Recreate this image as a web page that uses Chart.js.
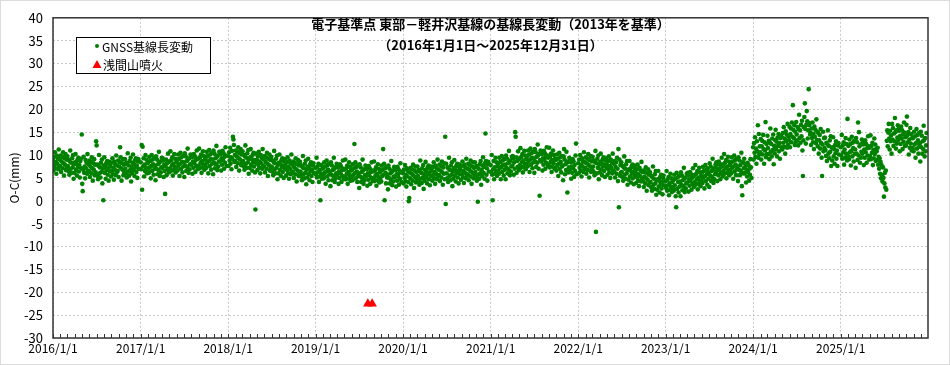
<!DOCTYPE html>
<html>
<head>
<meta charset="utf-8">
<script src="https://cdn.jsdelivr.net/npm/chart.js@4.4.1/dist/chart.umd.min.js"></script>
<style>
  html, body { margin: 0; padding: 0; background: #fff; }
  #chart { display: block; }
</style>
</head>
<body>
<canvas id="chart" width="950" height="365"></canvas>
<script>
// 基線長 O-C (mm)、2日おきの値(年ごと、1行=1か月)
const years = [2016, 2017, 2018, 2019, 2020, 2021, 2022, 2023, 2024, 2025];

const gnss2016 = [
  8.8,6.6,9.6,7.8,10.6,7.1,8.5,5.9,9.9,8.1,9.3,6.9,11.2,7.5,9.0,
  7.6,9.9,6.3,8.6,9.6,7.1,10.6,8.2,5.5,9.3,7.9,10.2,6.7,9.0,7.3,
  9.7,7.6,6.5,8.9,5.7,8.6,11.0,7.0,8.3,6.1,9.3,7.3,10.0,4.8,8.0,
  6.1,8.4,10.2,6.8,8.1,5.5,8.9,7.4,9.4,6.4,7.8,5.1,8.7,9.2,7.1,
  14.5,3.7,2.1,6.8,9.6,6.1,7.5,4.9,8.9,7.1,8.3,5.9,10.2,6.5,8.0,
  6.5,8.8,5.2,7.5,8.5,6.0,9.5,7.1,4.4,8.2,6.8,9.1,5.6,7.9,6.2,
  13.0,12.1,5.5,7.9,4.7,7.6,10.0,6.0,7.3,5.1,8.3,6.3,9.0,3.8,7.0,
  0.1,7.7,9.5,6.1,7.4,4.8,8.2,6.7,8.7,5.7,7.1,4.4,8.0,8.5,6.4,
  7.5,5.3,8.3,6.5,9.3,5.8,7.2,4.6,8.6,6.8,8.0,5.6,9.9,6.2,7.7,
  6.5,8.8,5.2,7.5,8.5,11.7,9.5,7.1,4.4,8.2,6.8,9.1,5.6,7.9,6.2,
  9.1,7.0,5.9,8.3,5.1,8.0,10.4,6.4,7.7,5.5,8.7,6.7,9.4,4.2,7.4,
  6.0,8.3,10.1,6.7,8.0,5.4,8.8,7.3,9.3,6.3,7.7,5.0,8.6,9.1,7.0
];
const gnss2017 = [
  8.4,6.9,12.2,2.4,11.8,7.5,9.3,5.3,7.9,6.5,10.0,7.2,9.0,6.0,8.2,
  6.7,8.4,6.1,9.6,7.3,8.7,4.9,7.6,10.0,6.5,9.0,8.0,5.7,9.3,7.0,
  7.7,4.5,9.7,7.0,9.0,5.8,8.0,6.7,10.7,8.3,5.4,8.6,6.2,7.3,9.4,
  7.2,9.3,8.8,5.2,7.9,6.5,1.5,7.5,9.0,5.6,8.2,6.9,10.3,8.5,6.2,
  8.6,7.1,10.8,6.5,8.9,7.7,9.5,5.5,8.1,6.7,10.2,7.4,9.2,6.2,8.4,
  7.2,8.9,6.6,10.1,7.8,9.2,5.4,8.1,10.5,7.0,9.5,8.5,6.2,9.8,7.5,
  8.4,5.2,10.4,7.7,9.7,6.5,8.7,7.4,11.4,9.0,6.1,9.3,6.9,8.0,10.1,
  7.9,10.0,9.5,5.9,8.6,7.2,10.2,8.2,9.7,6.3,8.9,7.6,11.0,9.2,6.9,
  9.2,7.7,11.4,7.1,9.5,8.3,10.1,6.1,8.7,7.3,10.8,8.0,9.8,6.8,9.0,
  7.8,9.5,7.2,10.7,8.4,9.8,6.0,8.7,11.1,7.6,10.1,9.1,6.8,10.4,8.1,
  9.0,5.8,11.0,8.3,10.3,7.1,9.3,8.0,12.0,9.6,6.7,9.9,7.5,8.6,10.7,
  8.6,10.7,10.2,6.6,9.3,7.9,10.9,8.9,10.4,7.0,9.6,8.3,11.7,9.9,7.6
];
const gnss2018 = [
  9.8,7.6,10.6,8.8,11.6,8.1,9.5,6.9,10.9,9.1,14.0,13.4,12.2,8.5,10.0,
  8.7,11.0,7.4,9.7,10.7,8.2,11.7,9.3,6.6,10.4,9.0,11.3,7.8,10.1,8.4,
  10.8,8.7,7.6,10.0,6.8,9.7,12.1,8.1,9.4,7.2,10.4,8.4,11.1,5.9,9.1,
  7.2,9.5,11.3,7.9,9.2,6.6,10.0,8.5,10.5,7.5,8.9,6.2,-1.9,10.3,8.2,
  8.9,6.7,9.7,7.9,10.7,7.2,8.6,6.0,10.0,8.2,9.4,7.0,11.3,7.6,9.1,
  7.5,9.8,6.2,8.5,9.5,7.0,10.5,8.1,5.4,9.2,7.8,10.1,6.6,8.9,7.2,
  9.6,7.5,6.4,8.8,5.6,8.5,10.9,6.9,8.2,6.0,9.2,7.2,9.9,4.7,7.9,
  6.0,8.3,10.1,6.7,8.0,5.4,8.8,7.3,9.3,6.3,7.7,5.0,8.6,9.1,7.0,
  7.7,5.5,8.5,6.7,9.5,6.0,7.4,4.8,8.8,7.0,8.2,5.8,10.1,6.4,7.9,
  6.3,8.6,5.0,7.3,8.3,5.8,9.3,6.9,4.2,8.0,6.6,8.9,5.4,7.7,6.0,
  8.5,6.4,5.3,7.7,4.5,7.4,9.8,5.8,7.1,4.9,8.1,6.1,8.8,3.6,6.8,
  5.1,7.4,9.2,5.8,7.1,4.5,7.9,6.4,8.4,5.4,6.8,4.1,7.7,8.2,6.1
];
const gnss2019 = [
  7.2,5.7,9.4,5.1,7.5,6.3,8.1,4.1,6.7,5.3,0.1,6.0,7.8,4.8,7.0,
  5.5,7.2,4.9,8.4,6.1,7.5,3.7,6.4,8.8,5.3,7.8,6.8,4.5,8.1,5.8,
  6.4,3.2,8.4,5.7,7.7,4.5,6.7,5.4,9.4,7.0,4.1,7.3,4.9,6.0,8.1,
  5.7,7.8,7.3,3.7,6.4,5.0,8.0,6.0,7.5,4.1,6.7,5.4,8.8,7.0,4.7,
  6.8,5.3,9.0,4.7,7.1,5.9,7.7,3.7,6.3,4.9,8.4,5.6,7.4,4.4,6.6,
  5.1,6.8,4.5,8.0,5.7,7.1,12.4,6.0,8.4,4.9,7.4,6.4,4.1,7.7,5.4,
  6.0,2.8,8.0,5.3,7.3,4.1,6.3,5.0,9.0,6.6,3.7,6.9,4.5,5.6,7.7,
  5.3,7.4,6.9,3.3,6.0,4.6,7.6,5.6,7.1,3.7,6.3,5.0,8.4,6.6,4.3,
  6.4,4.9,8.6,4.3,6.7,5.5,7.3,3.3,5.9,4.5,8.0,5.2,7.0,4.0,6.2,
  4.8,6.5,4.2,7.7,5.4,6.8,11.3,5.7,8.1,0.1,7.1,6.1,3.8,7.4,5.1,
  5.7,2.5,7.7,5.0,7.0,3.8,6.0,4.7,8.7,6.3,3.4,6.6,4.2,5.3,7.4,
  5.1,7.2,6.7,3.1,5.8,4.4,7.4,5.4,6.9,3.5,6.1,4.8,8.2,6.4,4.1
];
const gnss2020 = [
  6.0,3.8,6.8,5.0,7.8,4.3,5.7,3.1,7.1,5.3,6.5,4.1,-0.1,0.6,6.2,
  4.9,7.2,3.6,5.9,6.9,4.4,7.9,5.5,2.8,6.6,5.2,7.5,4.0,6.3,4.6,
  7.5,5.4,4.3,6.7,3.5,6.4,8.8,4.8,6.1,3.9,7.1,5.1,7.8,2.6,5.8,
  4.4,6.7,8.5,5.1,6.4,3.8,7.2,5.7,7.7,4.7,6.1,3.4,7.0,7.5,5.4,
  6.6,4.4,7.4,5.6,8.4,4.9,6.3,3.7,7.7,5.9,7.1,4.7,9.0,5.3,6.8,
  5.6,7.9,4.3,6.6,7.6,5.1,8.6,6.2,3.5,7.3,5.9,8.2,4.7,14.0,-0.7,
  8.1,6.0,4.9,7.3,4.1,7.0,9.4,5.4,6.7,4.5,7.7,5.7,8.4,3.2,6.4,
  4.8,7.1,8.9,5.5,6.8,4.2,7.6,6.1,8.1,5.1,6.5,3.8,7.4,7.9,5.8,
  6.8,4.6,7.6,5.8,8.6,5.1,6.5,3.9,7.9,6.1,7.3,4.9,9.2,5.5,7.0,
  5.8,8.1,4.5,6.8,7.8,5.3,8.8,6.4,3.7,7.5,6.1,8.4,4.9,7.2,5.5,
  8.4,6.3,5.2,7.6,4.4,7.3,-0.2,5.7,7.0,4.8,8.0,6.0,8.7,3.5,6.7,
  5.4,7.7,9.5,6.1,7.4,4.8,8.2,14.7,8.7,5.7,7.1,4.4,8.0,8.5,6.4
];
const gnss2021 = [
  7.8,6.3,10.0,5.7,0.1,6.9,8.7,4.7,7.3,5.9,9.4,6.6,8.4,5.4,7.6,
  6.5,8.2,5.9,9.4,7.1,8.5,4.7,7.4,9.8,6.3,8.8,7.8,5.5,9.1,6.8,
  7.9,4.7,9.9,7.2,9.2,6.0,8.2,6.9,10.9,8.5,5.6,8.8,6.4,7.5,9.6,
  7.7,9.8,9.3,5.7,8.4,7.0,15.0,14.0,9.5,6.1,8.7,7.4,10.8,9.0,6.7,
  9.3,7.8,11.5,7.2,9.6,8.4,10.2,6.2,8.8,7.4,10.9,8.1,9.9,6.9,9.1,
  8.1,9.8,7.5,11.0,8.7,10.1,6.3,9.0,11.4,7.9,10.4,9.4,7.1,10.7,8.4,
  9.3,6.1,11.3,8.6,10.6,7.4,9.6,8.3,12.3,9.9,7.0,10.2,1.1,8.9,11.0,
  8.6,10.7,10.2,6.6,9.3,7.9,10.9,8.9,10.4,7.0,9.6,8.3,11.7,9.9,7.6,
  9.4,7.9,11.6,7.3,9.7,8.5,10.3,6.3,8.9,7.5,11.0,8.2,10.0,7.0,9.2,
  7.2,8.9,6.6,10.1,7.8,9.2,5.4,8.1,10.5,7.0,9.5,8.5,6.2,9.8,7.5,
  7.7,4.5,9.7,11.3,9.0,5.8,8.0,6.7,10.7,8.3,1.8,8.6,6.2,7.3,9.4,
  6.8,8.9,8.4,4.8,7.5,6.1,9.1,7.1,8.6,5.2,7.8,6.5,9.9,12.5,5.8
];
const gnss2022 = [
  8.2,6.0,9.0,7.2,10.0,6.5,7.9,5.3,9.3,7.5,8.7,6.3,10.6,6.9,8.4,
  7.2,9.5,5.9,8.2,9.2,6.7,10.2,7.8,5.1,8.9,7.5,9.8,6.3,8.6,6.9,
  9.6,7.5,6.4,8.8,5.6,8.5,10.9,-6.8,8.2,6.0,9.2,7.2,9.9,4.7,7.9,
  6.2,8.5,10.3,6.9,8.2,5.6,9.0,7.5,9.5,6.5,7.9,5.2,8.8,9.3,7.2,
  7.9,5.7,8.7,6.9,9.7,6.2,7.6,5.0,9.0,7.2,8.4,6.0,10.3,6.6,8.1,
  6.4,8.7,5.1,7.4,8.4,5.9,9.4,7.0,4.3,11.3,-1.4,9.0,5.5,7.8,6.1,
  8.4,6.3,5.2,7.6,4.4,7.3,9.7,5.7,7.0,4.8,8.0,6.0,8.7,3.5,6.7,
  4.6,6.9,8.7,5.3,6.6,4.0,7.4,5.9,7.9,4.9,6.3,3.6,7.2,7.7,5.6,
  6.1,3.9,6.9,5.1,7.9,4.4,5.8,3.2,7.2,5.4,6.6,4.2,8.5,4.8,6.3,
  4.3,6.6,3.0,5.3,6.3,3.8,7.3,4.9,2.2,6.0,4.6,6.9,3.4,5.7,4.0,
  6.2,4.1,3.0,5.4,2.2,5.1,7.5,3.5,4.8,2.6,5.8,3.8,6.5,1.3,4.5,
  2.4,4.7,6.5,3.1,4.4,1.8,5.2,3.7,5.7,2.7,4.1,1.4,5.0,5.5,3.4
];
const gnss2023 = [
  4.3,2.8,6.5,2.2,4.6,3.4,5.2,1.2,3.8,2.4,5.9,3.1,4.9,1.9,4.1,
  2.8,4.5,2.2,5.7,3.4,4.8,1.0,-1.4,6.1,2.6,5.1,4.1,1.8,5.4,3.1,
  4.2,1.0,6.2,3.5,5.5,2.3,4.5,3.2,7.2,4.8,1.9,5.1,2.7,3.8,5.9,
  4.0,6.1,5.6,2.0,4.7,3.3,6.3,4.3,5.8,2.4,5.0,3.7,7.1,5.3,3.0,
  5.6,4.1,7.8,3.5,5.9,4.7,6.5,2.5,5.1,3.7,7.2,4.4,6.2,3.2,5.4,
  4.5,6.2,3.9,7.4,5.1,6.5,2.7,5.4,7.8,4.3,6.8,5.8,3.5,7.1,4.8,
  6.2,3.0,8.2,5.5,7.5,4.3,6.5,5.2,9.2,6.8,3.9,7.1,4.7,5.8,7.9,
  6.3,8.4,7.9,4.3,7.0,5.6,8.6,6.6,8.1,4.7,7.3,6.0,9.4,7.6,5.3,
  8.0,6.5,10.2,5.9,8.3,7.1,8.9,4.9,7.5,6.1,9.6,6.8,8.6,5.6,7.8,
  6.6,8.3,6.0,9.5,7.2,8.6,4.8,7.5,9.9,6.4,8.9,7.9,5.6,9.2,6.9,
  7.5,4.3,9.5,6.8,8.8,5.6,7.8,6.5,10.5,3.2,1.2,8.4,6.0,7.1,9.2,
  6.0,8.1,7.6,4.0,6.7,5.3,8.3,6.3,7.8,4.4,7.0,5.7,9.1,7.3,5.0
];
const gnss2024 = [
  11.7,9.0,12.6,10.5,13.9,9.6,11.4,8.1,13.0,10.8,16.5,9.4,14.6,10.1,11.9,
  10.6,13.5,9.0,11.9,13.1,10.1,14.4,11.3,8.1,12.8,11.0,17.2,9.5,12.4,10.2,
  14.2,11.5,10.2,13.1,9.1,12.7,15.8,10.7,12.4,9.7,13.6,11.1,14.5,8.0,12.0,
  10.4,13.3,15.5,11.3,12.9,9.7,13.8,12.0,14.6,10.8,12.6,9.2,13.7,14.2,11.7,
  13.9,11.2,14.8,12.7,16.1,11.8,13.6,10.3,15.2,13.0,14.5,11.6,16.8,12.3,14.1,
  13.3,16.2,11.7,14.6,15.8,12.8,17.1,14.0,20.9,15.5,13.7,16.5,12.2,15.1,12.9,
  17.2,14.5,13.2,16.1,12.1,15.7,18.8,13.7,15.4,12.7,16.6,14.1,17.5,11.0,5.4,
  13.2,16.1,18.3,21.3,15.7,12.5,16.6,19.6,17.4,13.6,15.4,24.4,16.5,17.0,14.5,
  14.9,12.2,15.8,13.7,17.1,12.8,14.6,11.3,16.2,14.0,15.5,12.6,17.8,13.3,15.1,
  11.9,14.8,10.3,13.2,14.4,11.4,15.7,12.6,9.4,5.4,12.3,15.1,10.8,13.7,11.5,
  13.8,11.1,9.8,12.7,8.7,12.3,15.4,10.3,12.0,9.3,13.2,10.7,14.1,7.6,11.6,
  8.8,11.7,13.9,9.7,11.3,8.1,12.2,10.4,13.0,9.2,11.0,7.6,12.1,12.6,10.1
];
const gnss2025 = [
  11.7,9.9,14.4,9.2,12.1,10.6,12.8,7.9,11.2,9.4,13.7,10.3,12.4,8.8,17.9,
  9.8,12.0,9.1,13.4,10.6,12.4,7.7,10.9,14.0,9.7,12.7,11.5,8.6,13.1,10.2,
  11.2,7.2,13.7,10.3,12.8,8.9,17.1,9.9,15.0,11.9,8.3,12.3,9.4,10.7,13.4,
  10.3,12.8,12.3,7.8,11.2,9.4,13.2,10.6,12.4,8.3,11.5,9.9,14.1,11.9,9.0,
  11.6,9.8,14.3,9.1,12.0,10.5,12.7,7.8,11.1,9.3,13.6,10.2,12.3,8.7,11.4,
  10.8,8.9,11.6,7.9,9.6,7.0,9.3,5.9,8.5,4.9,7.8,5.6,4.2,7.3,5.0,
  0.9,3.8,6.1,2.9,6.6,2.4,13.1,15.4,11.9,14.9,16.8,13.6,11.2,15.3,13.0,
  14.3,10.3,16.8,13.4,15.9,12.0,14.7,13.0,18.1,15.0,11.4,15.4,12.5,13.8,16.5,
  13.3,15.8,15.3,10.8,14.2,12.4,16.2,13.6,15.4,11.3,14.5,12.9,17.1,14.9,12.0,
  13.9,12.1,16.6,18.4,14.3,12.8,15.0,10.1,13.4,11.6,15.9,12.5,14.6,11.0,13.7,
  11.5,13.7,10.8,15.1,12.3,14.1,9.4,12.6,15.7,11.4,14.4,13.2,10.3,14.8,11.9,
  12.6,8.6,15.1,11.7,14.2,10.3,13.0,11.3,16.4,13.3,9.7,13.7,10.8,12.1,14.8
];
const gnssByYear = [gnss2016, gnss2017, gnss2018, gnss2019, gnss2020,
                    gnss2021, gnss2022, gnss2023, gnss2024, gnss2025];
const stepDays = 2;

// 浅間山噴火
const eruptDates = ["2019/8/7", "2019/8/25"];
const eruptValues = [-22.5, -22.5];

// 目盛
const tickLabels = ["2016/1/1", "2017/1/1", "2018/1/1", "2019/1/1", "2020/1/1",
                    "2021/1/1", "2022/1/1", "2023/1/1", "2024/1/1", "2025/1/1"];
const yMin = -30, yMax = 40, yStep = 5;

const day0 = Date.UTC(2016, 0, 1);
function dayOf(y, m, d) {
  return (Date.UTC(y, m - 1, d) - day0) / 86400000;
}
function parseDay(s) {
  const p = s.split("/").map(Number);
  return dayOf(p[0], p[1], p[2]);
}
const tickDays = tickLabels.map(parseDay);
const xMax = dayOf(2025, 12, 31);

const gnssPoints = [];
gnssByYear.forEach((arr, k) => {
  const start = dayOf(years[k], 1, 1);
  arr.forEach((v, i) => gnssPoints.push({ x: start + i * stepDays, y: v }));
});
const eruptPoints = eruptDates.map((d, i) => ({ x: parseDay(d), y: eruptValues[i] }));

const FONT = "'Noto Sans CJK JP', 'Noto Sans', sans-serif";
Chart.defaults.font.family = FONT;
Chart.defaults.color = "#000";

// 枠・月目盛・タイトル・凡例
const decorPlugin = {
  id: "decor",
  beforeDraw(chart) {
    const ctx = chart.ctx;
    ctx.save();
    ctx.fillStyle = "#fff";
    ctx.fillRect(0, 0, chart.width, chart.height);
    ctx.strokeStyle = "#dcdcdc";
    ctx.lineWidth = 1;
    ctx.strokeRect(0.5, 0.5, chart.width - 1, chart.height - 1);
    ctx.restore();
  },
  afterDraw(chart) {
    const ctx = chart.ctx;
    const a = chart.chartArea;
    const xs = chart.scales.x;
    ctx.save();

    // 月ごとの小目盛
    ctx.strokeStyle = "#333";
    ctx.lineWidth = 1;
    ctx.beginPath();
    years.forEach(y => {
      for (let m = 1; m <= 12; m++) {
        const px = Math.round(xs.getPixelForValue(dayOf(y, m, 1))) + 0.5;
        ctx.moveTo(px, a.bottom);
        ctx.lineTo(px, a.bottom - 4);
      }
    });
    ctx.stroke();

    // 外枠
    ctx.strokeStyle = "#333";
    ctx.lineWidth = 1.5;
    ctx.strokeRect(a.left, a.top, a.right - a.left, a.bottom - a.top);

    // タイトル
    const cx = (a.left + a.right) / 2;
    ctx.fillStyle = "#000";
    ctx.textAlign = "center";
    ctx.textBaseline = "middle";
    ctx.font = "bold 13px " + FONT;
    ctx.fillText("電子基準点 東部－軽井沢基線の基線長変動（2013年を基準）", cx, 24);
    ctx.fillText("（2016年1月1日～2025年12月31日）", cx, 45);

    // 縦軸タイトル
    ctx.save();
    ctx.translate(14, (a.top + a.bottom) / 2);
    ctx.rotate(-Math.PI / 2);
    ctx.font = "12px " + FONT;
    ctx.fillText("O-C(mm)", 0, 0);
    ctx.restore();

    // 凡例
    const lx = 76, ly = 37, lw = 134, lh = 36;
    ctx.fillStyle = "#fff";
    ctx.fillRect(lx, ly, lw, lh);
    ctx.strokeStyle = "#000";
    ctx.lineWidth = 1;
    ctx.strokeRect(lx + 0.5, ly + 0.5, lw, lh);
    ctx.fillStyle = "#008000";
    ctx.beginPath();
    ctx.arc(97, 46, 2, 0, Math.PI * 2);
    ctx.fill();
    ctx.fillStyle = "#ff0000";
    ctx.beginPath();
    ctx.moveTo(97, 60);
    ctx.lineTo(101.5, 68);
    ctx.lineTo(92.5, 68);
    ctx.closePath();
    ctx.fill();
    ctx.fillStyle = "#000";
    ctx.textAlign = "left";
    ctx.font = "12px " + FONT;
    ctx.fillText("GNSS基線長変動", 102, 47);
    ctx.fillText("浅間山噴火", 103, 65);

    ctx.restore();
  }
};

new Chart(document.getElementById("chart"), {
  type: "scatter",
  data: {
    datasets: [
      {
        label: "GNSS基線長変動",
        data: gnssPoints,
        backgroundColor: "#008000",
        borderWidth: 0,
        pointRadius: 2.3
      },
      {
        label: "浅間山噴火",
        data: eruptPoints,
        pointStyle: "triangle",
        backgroundColor: "#ff0000",
        borderWidth: 0,
        pointRadius: 5.5
      }
    ]
  },
  options: {
    responsive: false,
    animation: false,
    devicePixelRatio: 1,
    events: [],
    layout: { padding: { left: 0, top: 12, right: 22, bottom: 0 } },
    plugins: { legend: { display: false }, tooltip: { enabled: false } },
    scales: {
      x: {
        type: "linear",
        min: 0,
        max: xMax,
        afterBuildTicks: s => { s.ticks = tickDays.map(v => ({ value: v })); },
        afterFit: s => { s.height = 27; },
        ticks: {
          autoSkip: false,
          maxRotation: 0,
          padding: 3,
          font: { size: 12 },
          callback: (v, i) => tickLabels[i]
        },
        grid: { color: "#c8c8c8", lineWidth: 1, drawTicks: false },
        border: { display: false, dash: [2, 2] }
      },
      y: {
        min: yMin,
        max: yMax,
        afterFit: s => { s.width = 53; },
        ticks: { stepSize: yStep, padding: 10, font: { size: 13 } },
        grid: { color: "#c8c8c8", lineWidth: 1, drawTicks: false },
        border: { display: false, dash: [2, 2] }
      }
    }
  },
  plugins: [decorPlugin]
});
</script>
</body>
</html>
